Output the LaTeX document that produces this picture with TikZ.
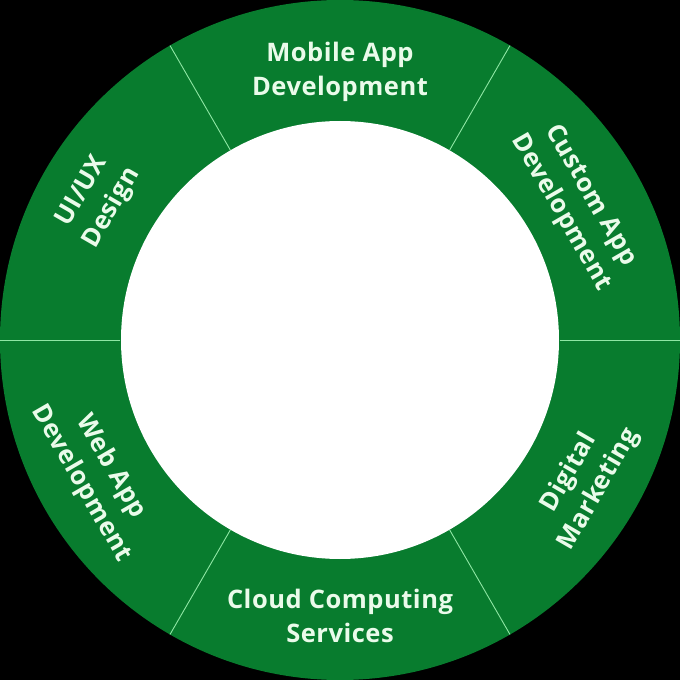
\documentclass[tikz,border=0pt]{standalone}
\usepackage{fontspec}
\setmainfont{Open Sans}[LetterSpace=2]
\definecolor{ringgreen}{HTML}{087C2E}
\definecolor{txtwhite}{HTML}{EAFBEA}
\definecolor{divline}{HTML}{8EE6A4}
\begin{document}
\begin{tikzpicture}[x=1pt,y=1pt,
  seglabel/.style={text=txtwhite,font=\fontsize{25.5}{34}\selectfont\bfseries,align=center,inner sep=0pt},
  divider/.style={draw=divline,line width=0.9pt}]
\useasboundingbox (-340,-340) rectangle (340,340);
\fill[black] (-340,-340) rectangle (340,340);
\fill[ringgreen] (0,0) circle (340);
\fill[white] (0,0) circle (219);
\foreach \a in {0,60,...,300}{
  \coordinate (in\a) at (\a:219.5);
  \coordinate (out\a) at (\a:340);
  \draw[divider] (in\a) -- (out\a);
}
\node[seglabel] (mobile) at (90:268) {Mobile App\\Development};
\node[seglabel,rotate=-60] (custom) at (30:272) {Custom App\\Development};
\node[seglabel,rotate=60] (digital) at (-30:282) {Digital\\Marketing};
\node[seglabel] (cloud) at (-90:276) {Cloud Computing\\Services};
\node[seglabel,rotate=-60] (web) at (209:279) {Web App\\Development};
\node[seglabel,rotate=60] (uiux) at (150:280) {UI/UX\\Design};
\end{tikzpicture}
\end{document}
